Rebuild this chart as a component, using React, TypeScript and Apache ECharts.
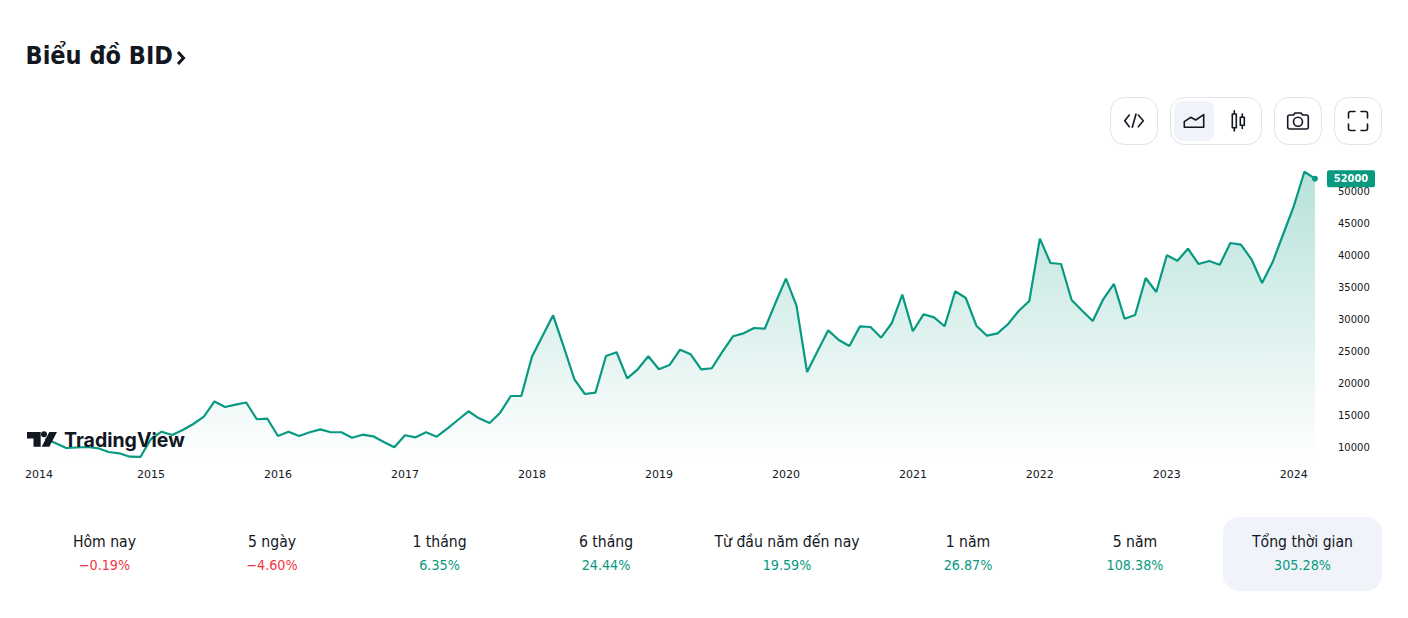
import React, { useEffect, useRef } from "react";
import * as echarts from "echarts";

const startYear = 2014;
const prices = [
  null, null, 11400, 10660, 9920, 10000, 10080, 9880, 9300, 9090, 8560, 8520,
  11330, 12470, 11950, 12730, 13670, 14810, 17190, 16330, 16690, 17030, 14410, 14500,
  11800, 12470, 11800, 12380, 12840, 12380, 12380, 11530, 12000, 11750, 10860, 10030,
  11910, 11590, 12380, 11690, 12940, 14300, 15660, 14560, 13830, 15440, 18050, 18050,
  24190, 27420, 30660, 25750, 20700, 18360, 18560, 24300, 24880, 20810, 22220, 24250,
  22220, 22890, 25280, 24560, 22220, 22380, 24970, 27380, 27840, 28670, 28560, 32530,
  36380, 32160, 21800, 25080, 28310, 26800, 25860, 28940, 28830, 27160, 29410, 33880,
  28160, 30810, 30340, 28940, 34410, 33360, 29030, 27470, 27840, 29300, 31330, 32890,
  42630, 38830, 38670, 33050, 31380, 29770, 33200, 35550, 30130, 30700, 36480, 34300,
  40030, 39190, 41060, 38670, 39140, 38560, 41950, 41690, 39410, 35700, 38980, 43360,
  47730, 53090, 52000,
];
const months = prices.map((_, i) => `${startYear + Math.floor(i / 12)}-${String((i % 12) + 1).padStart(2, "0")}`);
const yTicks = [10000, 15000, 20000, 25000, 30000, 35000, 40000, 45000, 50000];
const statLabels = ["Hôm nay", "5 ngày", "1 tháng", "6 tháng", "Từ đầu năm đến nay", "1 năm", "5 năm", "Tổng thời gian"];
const statValues = ["−0.19%", "−4.60%", "6.35%", "24.44%", "19.59%", "26.87%", "108.38%", "305.28%"];
const statCenters = [104.5, 272, 439.5, 606, 787, 968, 1135, 1302.5];
const title = "Biểu đồ BID";

const GREEN = "#089981";
const RED = "#f23645";
const INK = "#131722";
const BORDER = "#e0e3eb";
const SOFT = "#f0f3fa";
const UI_FONT = '"DejaVu Sans Condensed","DejaVu Sans",sans-serif';

echarts.graphic.registerShape("iconCode", echarts.graphic.extendPath("M1129.3 115L1124.7 120.7L1129.3 126.7M1136 114L1132.3 127.3M1138.3 115L1143.3 120.7L1138.3 126.7", {}));
echarts.graphic.registerShape("iconArea", echarts.graphic.extendPath("M1184.3 127.3L1184.3 121.7L1190.7 117.3L1195.7 120L1203.7 114.7L1203.7 127.3Z", {}));
echarts.graphic.registerShape("iconCandle", echarts.graphic.extendPath("M1232.3 114H1236.3V127.7H1232.3ZM1234.3 110.7V114M1234.3 127.7V131M1240.3 117.3H1244.3V125.3H1240.3ZM1242.3 114V117.3M1242.3 125.3V128.5", {}));
echarts.graphic.registerShape("iconCamera", echarts.graphic.extendPath("M1289.7 115H1293.5L1295 113H1301L1302.5 115H1306.3Q1308.3 115 1308.3 117V127Q1308.3 129 1306.3 129H1289.7Q1287.7 129 1287.7 127V117Q1287.7 115 1289.7 115ZM1302.5 121.7A4.5 4.5 0 1 1 1293.5 121.7A4.5 4.5 0 1 1 1302.5 121.7Z", {}));
echarts.graphic.registerShape("iconFull", echarts.graphic.extendPath("M1348.5 118V113.5Q1348.5 111.5 1350.5 111.5H1355M1361 111.5H1365.5Q1367.5 111.5 1367.5 113.5V118M1367.5 124V128.5Q1367.5 130.5 1365.5 130.5H1361M1355 130.5H1350.5Q1348.5 130.5 1348.5 128.5V124", {}));
echarts.graphic.registerShape("tvMark", echarts.graphic.extendPath("M27 432H40.7V446.7H33.5V438.5H27ZM47 434.3A3 3 0 1 1 41 434.3A3 3 0 1 1 47 434.3ZM49.3 432H57L49.3 446.7H41.7Z", {}));
echarts.graphic.registerShape("chevron", echarts.graphic.extendPath("M178 52L183.5 58L178 64", {}));

function buildGraphic() {
  const stroke = { fill: "none", stroke: INK, lineWidth: 1.6, lineJoin: "round", lineCap: "round" };
  const box = (x: number, y: number, width: number, height: number, r: number, style: object) => ({
    type: "rect", z: 100, shape: { x, y, width, height, r }, style,
  });
  const outline = { fill: "#fff", stroke: BORDER, lineWidth: 1 };
  const elements: any[] = [
    { type: "text", z: 100, style: { text: title, x: 25.5, y: 55.5, font: `bold 25px ${UI_FONT}`, fill: INK, textAlign: "left", textVerticalAlign: "middle" } },
    { type: "chevron", z: 100, style: { fill: "none", stroke: INK, lineWidth: 3 } },
    box(1110.5, 97.5, 47, 47, 14, outline),
    box(1170.5, 97.5, 91, 47, 14, outline),
    box(1174, 101, 40, 40, 8, { fill: SOFT }),
    box(1274.5, 97.5, 47, 47, 14, outline),
    box(1334.5, 97.5, 47, 47, 14, outline),
    { type: "iconCode", z: 101, style: stroke },
    { type: "iconArea", z: 101, style: stroke },
    { type: "iconCandle", z: 101, style: stroke },
    { type: "iconCamera", z: 101, style: stroke },
    { type: "iconFull", z: 101, style: stroke },
    { type: "tvMark", z: 102, style: { fill: INK } },
    { type: "text", z: 102, style: { text: "TradingView", x: 64, y: 440, font: 'bold 19.5px Inter,sans-serif', fill: INK, textAlign: "left", textVerticalAlign: "middle" } },
    box(1223, 517, 159, 74, 16, { fill: SOFT }),
  ];
  statLabels.forEach((label, i) => {
    const value = statValues[i];
    elements.push(
      { type: "text", z: 101, style: { text: label, x: statCenters[i], y: 541.5, font: `15.6px ${UI_FONT}`, fill: INK, textAlign: "center", textVerticalAlign: "middle" } },
      { type: "text", z: 101, style: { text: value, x: statCenters[i], y: 565, font: `14.2px ${UI_FONT}`, fill: value.startsWith("−") ? RED : GREEN, textAlign: "center", textVerticalAlign: "middle" } },
    );
  });
  return elements;
}

export default function App() {
  const ref = useRef<HTMLDivElement>(null);
  useEffect(() => {
    const chart = echarts.init(ref.current!, undefined, { renderer: "svg" });
    const lastIndex = prices.length - 1;
    chart.setOption({
      animation: false,
      backgroundColor: "#ffffff",
      grid: { left: 24, right: 93, top: 160, bottom: 156 },
      xAxis: {
        type: "category",
        data: months,
        boundaryGap: false,
        axisLine: { show: false },
        axisTick: { show: false },
        splitLine: { show: false },
        axisLabel: {
          interval: (i: number) => i % 12 === 0,
          formatter: (v: string) => (v === months[0] ? `{first|${v.slice(0, 4)}}` : v.slice(0, 4)),
          margin: 7,
          color: INK,
          fontSize: 11,
          fontFamily: "DejaVu Sans",
          showMinLabel: true,
          rich: { first: { fontSize: 11, fontFamily: "DejaVu Sans", color: INK, padding: [0, 0, 0, 30] } },
        },
      },
      yAxis: {
        type: "value",
        position: "right",
        min: 7734.375,
        max: 54921.875,
        axisLine: { show: false },
        axisTick: { show: false },
        splitLine: { show: false },
        axisLabel: {
          customValues: yTicks,
          formatter: (v: number) => String(v),
          margin: 23,
          color: INK,
          fontSize: 10,
          fontFamily: "DejaVu Sans",
          align: "left",
        },
      },
      series: [
        {
          type: "line",
          data: prices,
          symbol: "none",
          lineStyle: { color: GREEN, width: 2.2 },
          areaStyle: {
            origin: "start",
            opacity: 1,
            color: new echarts.graphic.LinearGradient(0, 0, 0, 1, [
              { offset: 0, color: "rgba(8,153,129,0.29)" },
              { offset: 1, color: "rgba(8,153,129,0)" },
            ]),
          },
          z: 2,
        },
        {
          type: "scatter",
          data: [[lastIndex, prices[lastIndex]]],
          symbol: "circle",
          symbolSize: 6,
          itemStyle: { color: GREEN, opacity: 1 },
          clip: false,
          z: 3,
          label: {
            show: true,
            position: "right",
            distance: 9,
            formatter: (p: any) => `{tag|${p.value[1]}}`,
            rich: {
              tag: {
                color: "#ffffff",
                backgroundColor: GREEN,
                fontSize: 11,
                fontWeight: "bold",
                fontFamily: UI_FONT,
                width: 48,
                height: 17,
                lineHeight: 17,
                align: "center",
                borderRadius: 2,
              },
            },
          },
        },
      ],
      graphic: { elements: buildGraphic() },
    });
    return () => chart.dispose();
  }, []);
  return <div ref={ref} style={{ position: "fixed", left: 0, top: 0, width: 1408, height: 618 }} />;
}
